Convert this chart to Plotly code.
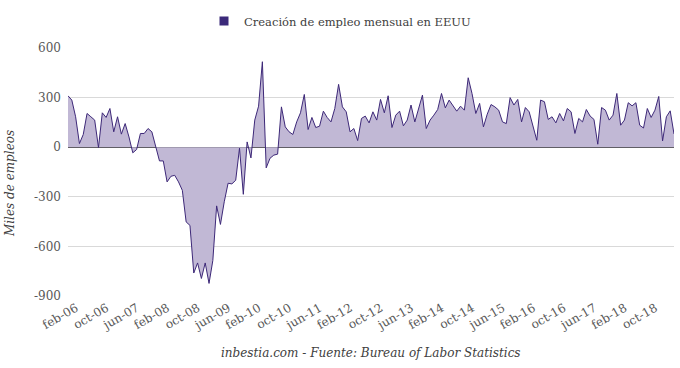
import plotly.graph_objects as go

# Monthly job creation in the US (thousands), Feb-2006 .. May-2019
start_year = 2006
start_month = 2
values = [
    # 2006 (feb-dec)
    311, 285, 184, 22, 77, 204, 184, 164, -2, 208, 180,
    # 2007
    234, 93, 184, 79, 143, 62, -34, -14, 83, 83, 113, 93,
    # 2008
    5, -83, -83, -210, -176, -170, -210, -261, -452, -473, -761, -700,
    # 2009
    -794, -700, -824, -685, -355, -467, -330, -218, -222, -200, -6, -285,
    # 2010
    32, -65, 164, 248, 517, -125, -67, -48, -42, 244, 123, 93,
    # 2011
    77, 153, 208, 319, 107, 180, 119, 127, 218, 180, 153, 234,
    # 2012
    380, 244, 214, 93, 113, 40, 174, 188, 147, 214, 164, 289,
    # 2013
    208, 311, 119, 194, 218, 129, 164, 255, 153, 234, 315, 113,
    # 2014
    164, 194, 228, 325, 238, 285, 248, 218, 248, 224, 420, 325,
    # 2015
    204, 265, 123, 200, 258, 244, 224, 153, 143, 300, 255, 289,
    # 2016
    153, 240, 214, 123, 42, 285, 275, 168, 184, 147, 204, 159,
    # 2017
    234, 214, 83, 174, 153, 228, 188, 168, 18, 240, 224, 164,
    # 2018
    194, 325, 133, 164, 269, 250, 269, 133, 116, 234, 180, 224,
    # 2019
    307, 38, 184, 220, 80,
]

month_abbr = ["ene", "feb", "mar", "abr", "may", "jun",
              "jul", "ago", "sep", "oct", "nov", "dic"]
categories = []
for i in range(len(values)):
    m = (start_month - 1 + i) % 12
    y = start_year + (start_month - 1 + i) // 12
    categories.append(f"{month_abbr[m]}-{y % 100:02d}")

x_tick_labels = categories[::8]
y_tick_values = [600, 300, 0, -300, -600, -900]
y_tick_labels = ["600", "300", "0", "-300", "-600", "-900"]

series_name = "Creación de empleo mensual en EEUU"
y_title = "Miles de empleos"
caption = "inbestia.com - Fuente: Bureau of Labor Statistics"

LINE = "#3d2878"
FILL = "#c1b8d5"
TEXT = "#595959"
FONT = "DejaVu Serif, serif"

W, H = 680, 368

fig = go.Figure()
fig.add_trace(go.Scatter(
    x=categories, y=values, mode="lines",
    line=dict(color=LINE, width=1),
    fill="tozeroy", fillcolor=FILL,
    showlegend=False, hoverinfo="x+y",
))
fig.add_trace(go.Scatter(
    x=[None], y=[None], mode="markers", name=series_name,
    marker=dict(symbol="square", size=9, color="#3b2a7a"),
))

fig.update_layout(
    width=W, height=H,
    margin=dict(l=68, r=6, t=48, b=72, autoexpand=False),
    paper_bgcolor="white", plot_bgcolor="white",
    font=dict(family=FONT, size=12, color=TEXT),
    legend=dict(
        orientation="h", xref="container", yref="container",
        x=340 / W, xanchor="center", y=1 - 21 / H, yanchor="middle",
        font=dict(family=FONT, size=11.5, color="#404040"),
        itemwidth=30,
    ),
    xaxis=dict(
        type="category",
        range=[0, len(values) - 1],
        tickmode="array", tickvals=x_tick_labels, ticktext=x_tick_labels,
        tickangle=-30, showgrid=False, showline=False, ticks="",
        tickfont=dict(family=FONT, size=12, color=TEXT),
        ticklabelshift=8, ticklabelstandoff=2,
    ),
    yaxis=dict(
        range=[-900, 600],
        tickmode="array", tickvals=y_tick_values, ticktext=y_tick_labels,
        showgrid=True, gridcolor="#d9d9d9", gridwidth=1,
        zeroline=True, zerolinecolor="#404040", zerolinewidth=1,
        showline=False, ticks="", ticklabelstandoff=6,
        tickfont=dict(family=FONT, size=12, color=TEXT),
    ),
    annotations=[
        dict(text=f"<i>{y_title}</i>", xref="paper", yref="paper",
             x=(10 - 68) / 606, y=(296 - 183) / 248,
             xanchor="center", yanchor="middle",
             textangle=-90, showarrow=False,
             font=dict(family=FONT, size=12, color="#404040")),
        dict(text=f"<i>{caption}</i>", xref="paper", yref="paper",
             x=0.5, y=(296 - 353) / 248, xanchor="center", yanchor="middle",
             showarrow=False,
             font=dict(family=FONT, size=12, color="#404040")),
    ],
)

fig.write_html(
    "out.html",
    config={"displayModeBar": False},
    post_script="document.body.style.margin='0';document.body.style.padding='0';",
)
